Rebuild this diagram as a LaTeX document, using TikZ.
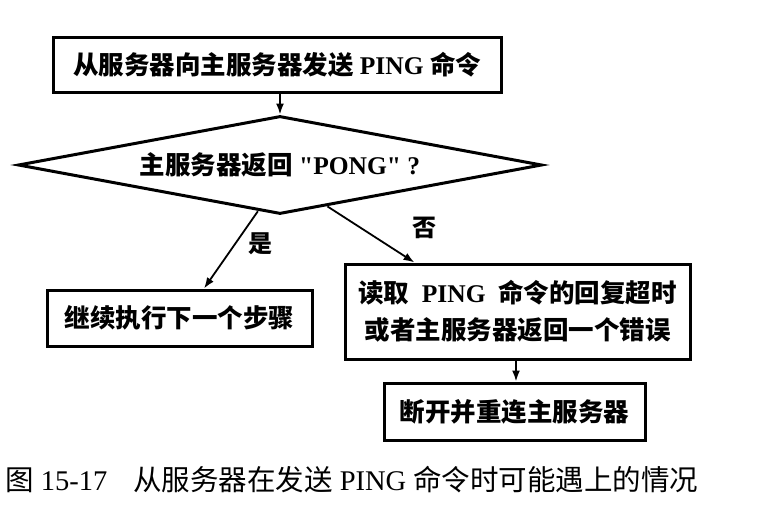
\documentclass[tikz,border=0pt]{standalone}
\usepackage{fontspec}
\setmainfont{Liberation Serif}[Ligatures=TeXOff]
\newfontfamily\cjk{Noto Sans CJK SC}
\usetikzlibrary{arrows.meta,calc,shapes.geometric}
\begin{document}
\begin{tikzpicture}[x=1pt,y=-1pt,
  box/.style={draw,line width=3pt,inner sep=0pt,align=center,font=\bfseries\fontsize{25.5}{37}\selectfont},
  conn/.style={line width=1.8pt,-{Latex[length=11pt,width=8pt]}},
  lbl/.style={font=\bfseries\fontsize{24}{26}\selectfont},
  captxt/.style={anchor=west,inner sep=0pt,font=\fontsize{28.5}{30}\selectfont}]
\useasboundingbox (0,0) rectangle (770,530);
\fill[white] (0,0) rectangle (770,530);
\node[box,minimum width=448pt,minimum height=55pt] (top) at (277,64.5)
  {{\cjk 从服务器向主服务器发送} PING {\cjk 命令}};
\node[box,shape=diamond,aspect=5.35,minimum width=524pt,minimum height=98pt] (dia) at (280,165)
  {{\cjk 主服务器返回} "PONG" ?};
\node[box,minimum width=265pt,minimum height=56pt] (lb) at (179.5,318)
  {\cjk 继续执行下一个步骤};
\node[box,minimum width=345pt,minimum height=95pt] (rb) at (517.5,311.5)
  {{\cjk 读取}\ \ PING\ \ {\cjk 命令的回复超时}\\{\cjk 或者主服务器返回一个错误}};
\node[box,minimum width=261pt,minimum height=57pt] (bb) at (514.5,411.5)
  {\cjk 断开并重连主服务器};
\draw[conn] (top.south -| dia.north) -- (dia.north);
\draw[conn] ($(dia.west)!0.916!(dia.south)$) -- ([xshift=24.5pt]lb.north);
\draw[conn] ($(dia.south)!0.18!(dia.east)$) -- ([xshift=71pt]rb.north west);
\draw[conn] ([xshift=-1.5pt]rb.south) -- ([xshift=-1.5pt]rb.south |- bb.north);
\node[lbl] (yes) at (260,244) {\cjk 是};
\node[lbl] (no) at (424,228) {\cjk 否};
\node[captxt] (capnum) at (5,480) {{\cjk 图} 15-17};
\node[captxt] (captext) at (133,480) {{\cjk 从服务器在发送} PING {\cjk 命令时可能遇上的情况}};
\end{tikzpicture}
\end{document}
